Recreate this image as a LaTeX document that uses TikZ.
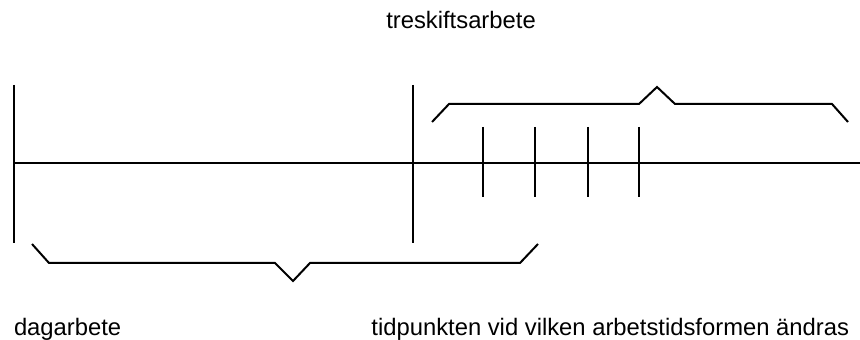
\documentclass[tikz,border=0pt]{standalone}
\usepackage{fontspec}
\setmainfont{Liberation Sans}
\usepackage{tikz}

\begin{document}
\begin{tikzpicture}[x=0.5pt, y=-0.5pt, line width=1pt, line join=miter,
    lbl/.style = {inner sep=0pt, font=\fontsize{11.9}{14}\selectfont}]
    \useasboundingbox (0,0) rectangle (860,340);
    % time axis
    \coordinate (start) at (14,163);
    \coordinate (end) at (860,163);
    \draw (start) -- (end);
    % day work / change point
    \coordinate (d1) at (14,85);
    \coordinate (d2) at (14,243);
    \coordinate (c1) at (413,85);
    \coordinate (c2) at (413,243);
    \draw (d1) -- (d2);
    \draw (c1) -- (c2);
    % shifts
    \foreach \x [count=\i] in {483,535,588,639} {
      \coordinate (s\i a) at (\x,127);
      \coordinate (s\i b) at (\x,197);
      \draw (s\i a) -- (s\i b);
    }
    % braces
    \draw (432,122) -- (449,104) -- (639,104) -- (657,87) -- (675,104) -- (832,104) -- (848,122);
    \draw (32,244) -- (49,263) -- (275,263) -- (293,281) -- (310,263) -- (520,263) -- (538,244);
    % labels
    \node[lbl, anchor=base] (tre) at (461,29) {treskiftsarbete};
    \node[lbl, anchor=base west] (dag) at (13,336) {dagarbete};
    \node[lbl, anchor=base east] (tid) at (850,336) {tidpunkten vid vilken arbetstidsformen ändras};
\end{tikzpicture}
\end{document}
